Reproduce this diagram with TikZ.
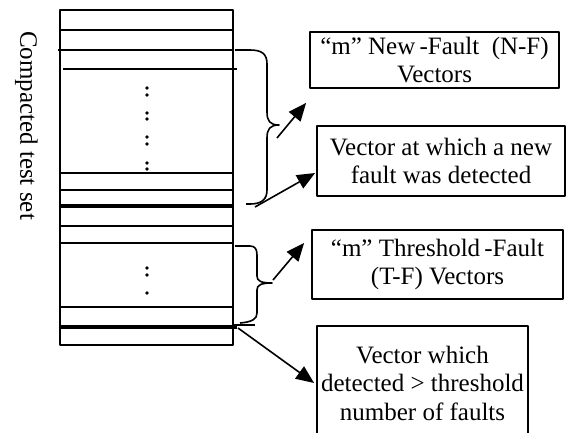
\documentclass[tikz,border=0pt]{standalone}
\usepackage{fontspec}
\setmainfont{Liberation Serif}
\usetikzlibrary{arrows.meta}
\begin{document}
\begin{tikzpicture}[x=1pt, y=-1pt, line join=round, >={Triangle[length=18pt,width=15pt]},
	txt/.style={font=\fontsize{25}{28.5}\selectfont},
	box/.style={txt, draw, line width=1.8pt, align=center, inner sep=0pt},
	row/.style={line width=1.6pt},
	boldrow/.style={line width=3.8pt}]
	\useasboundingbox (0,0) rectangle (566,432);
	% compacted test set
	\node[txt, rotate=-90, inner sep=0pt] (cts) at (26.5,125.5) {Compacted test set};
	\draw[line width=1.7pt] (60,10) rectangle (233,345);
	\foreach \y in {30,173,190,226,243,307} \draw[row] (60,\y) -- (233,\y);
	\draw[row] (58,50) -- (233,50);
	\draw[row] (63,69) -- (237,69);
	\draw[boldrow] (60,206) -- (233,206);
	\draw[boldrow] (60,327) -- (237,327);
	\draw[row] (233,325) -- (255,325);
	\foreach \y in {88,95,113,119,137,144,163,169,268,275,293} \fill (147,\y) circle (1.9pt);
	% braces
	\draw[row] (235,50) -- (250,50) .. controls (262,50) and (267,54) .. (267,64) -- (267,112)
		.. controls (267,121) and (270,125) .. (279,125) .. controls (270,125) and (267,129) .. (267,138)
		-- (267,190) .. controls (267,199) and (262,204) .. (250,204) -- (246,204);
	\draw[row] (235,246) -- (250,246) .. controls (255,246) and (257,249) .. (257,255) -- (257,276)
		.. controls (257,281) and (261,283) .. (272,283) .. controls (261,283) and (257,285) .. (257,290)
		-- (257,313) .. controls (257,319) and (252,322) .. (240,323);
	\coordinate (nfend) at (277,138);
	\coordinate (nfrow) at (255,207);
	\coordinate (tfend) at (273,280);
	\coordinate (tfrow) at (238,328);
	% boxes
	\node[box, minimum width=249pt, minimum height=56pt] (nf) at (434.5,60) {“m” New\,-Fault\ \ (N-F)\\Vectors};
	\node[box, minimum width=248pt, minimum height=70pt] (nfv) at (441,161) {Vector at which a new\\fault was detected};
	\node[box, minimum width=251pt, minimum height=69pt] (tf) at (437.5,264.5) {“m” Threshold\,-Fault\\(T-F) Vectors};
	\node[box, minimum width=211pt, minimum height=114pt] (tfv) at (422.5,383) {Vector which\\detected > threshold\\number of faults};
	% arrows
	\draw[->, row] (nfend) -- ([xshift=-3pt,yshift=-14pt]nf.south west);
	\draw[->, row] (nfrow) -- ([xshift=-1pt,yshift=-12pt]nfv.west);
	\draw[->, row] (tfend) -- ([xshift=-7pt,yshift=21.5pt]tf.west);
	\draw[->, row] (tfrow) -- ([xshift=-2pt]tfv.west);
\end{tikzpicture}
\end{document}
